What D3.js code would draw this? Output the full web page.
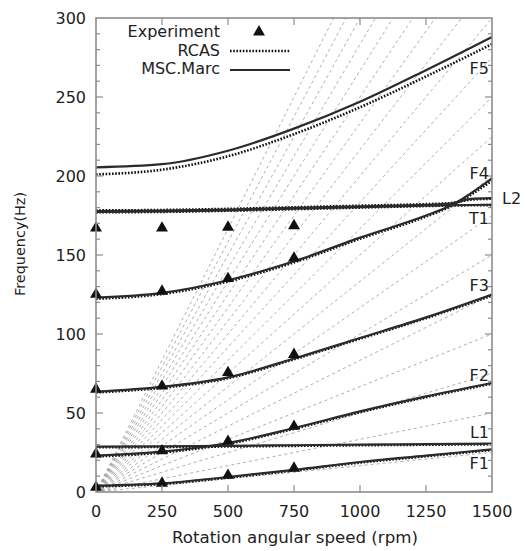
<!DOCTYPE html>
<html>
<head>
<meta charset="utf-8">
<script src="https://d3js.org/d3.v7.min.js"></script>
<style>
  body { margin: 0; background: #fff; }
  text { font-family: "DejaVu Sans", Verdana, sans-serif; fill: #222; }
</style>
</head>
<body>
<div id="chart"></div>
<script>
// rotation speed (rpm) sample points
var rpm = [0, 250, 500, 750, 1000, 1250, 1500];
var rpmFork = [0, 250, 500, 750, 1000, 1250, 1340, 1500];
var rpmL2 = [0, 250, 500, 750, 1000, 1250, 1340, 1420, 1500];

// MSC.Marc (solid)
var marcF1 = [4, 5.5, 9.5, 14, 19, 23, 27];
var marcL1 = [28.7, 28.9, 29.2, 29.6, 30, 30.3, 30.6];
var marcF2 = [23, 25.5, 31, 40.5, 51, 60.5, 69];
var marcF3 = [63.5, 66.5, 72.5, 84.5, 97.5, 110.5, 125];
var marcF4 = [123, 126, 134, 146, 161, 175, 181, 198.5];
var marcT1 = [177.3, 177.6, 178.3, 179.3, 180.3, 181.2, 181.5, 181.8];
var marcL2 = [177.8, 178.1, 178.8, 179.8, 180.8, 181.8, 182.5, 185.5, 186];
var marcF5 = [205.5, 207.5, 216, 230, 247, 267, 288];

// RCAS (dotted)
var rcasF1 = [3.6, 5.1, 9.1, 13.6, 18.6, 22.6, 26.6];
var rcasL1 = [28.3, 28.5, 28.8, 29.2, 29.6, 29.9, 30.2];
var rcasF2 = [22.5, 25, 30.5, 40, 50.5, 60, 68.5];
var rcasF3 = [63, 66, 72, 84, 97, 110, 124.3];
var rcasF4 = [122.3, 125.3, 133.3, 145.3, 160.3, 174.3, 180.5, 197];
var rcasT1 = [177, 177.3, 178, 179, 180, 181, 181.3, 181.6];
var rcasL2 = [178.2, 178.5, 179.2, 180.2, 181.2, 182.2, 182.8, 185, 185.6];
var rcasF5 = [201, 204, 212.5, 226.5, 243.5, 263, 283.5];

// Experiment (triangles)
var expRpm = [0, 250, 500, 750];
var expF1 = [4, 6.5, 11.5, 16];
var expF2 = [25, 27, 33, 42.5];
var expF3 = [66, 68, 76.5, 88];
var expF4 = [126, 128, 136, 149];
var expT1 = [168, 168, 168.5, 169.5];

// engine orders drawn as grey dashed rays
var orders = [1, 2, 3, 4, 5, 6, 7, 8, 9, 10, 11, 12, 13, 14, 15, 16, 17, 18, 19, 20];

var xTicks = [0, 250, 500, 750, 1000, 1250, 1500];
var yTicks = [0, 50, 100, 150, 200, 250, 300];

var modeLabels = [
  {name: "F5", f: 268}, {name: "F4", f: 202}, {name: "T1", f: 173},
  {name: "F3", f: 131}, {name: "F2", f: 74}, {name: "L1", f: 38}, {name: "F1", f: 18}
];

var W = 525, H = 551;
var L = 96, R = 492, T = 18, B = 492;

var svg = d3.select("#chart").append("svg")
    .attr("width", W)
    .attr("height", H);

var x = d3.scaleLinear().domain([0, 1500]).range([L, R]);
var y = d3.scaleLinear().domain([0, 300]).range([B, T]);

svg.append("clipPath").attr("id", "clip")
  .append("rect").attr("x", L).attr("y", T).attr("width", R - L).attr("height", B - T);

var plot = svg.append("g").attr("clip-path", "url(#clip)");

// engine order rays
plot.selectAll(".order")
    .data(orders)
    .enter().append("line")
    .attr("x1", x(0)).attr("y1", y(0))
    .attr("x2", x(1500)).attr("y2", function(n) { return y(n * 1500 / 60); })
    .attr("stroke", "#999")
    .attr("stroke-width", 0.8)
    .attr("stroke-dasharray", "3,3");

var line = d3.line()
    .x(function(d) { return x(d[0]); })
    .y(function(d) { return y(d[1]); })
    .curve(d3.curveMonotoneX);

function zip(xs, ys) { return xs.map(function(v, i) { return [v, ys[i]]; }); }

var rcas = [[rpm, rcasF1], [rpm, rcasL1], [rpm, rcasF2], [rpm, rcasF3],
            [rpmFork, rcasF4], [rpmFork, rcasT1], [rpmL2, rcasL2], [rpm, rcasF5]];
var marc = [[rpm, marcF1], [rpm, marcL1], [rpm, marcF2], [rpm, marcF3],
            [rpmFork, marcF4], [rpmFork, marcT1], [rpmL2, marcL2], [rpm, marcF5]];

rcas.forEach(function(s) {
  plot.append("path")
      .attr("d", line(zip(s[0], s[1])))
      .attr("fill", "none")
      .attr("stroke", "#111")
      .attr("stroke-width", 2.6)
      .attr("stroke-dasharray", "1.6,1.6");
});

marc.forEach(function(s) {
  plot.append("path")
      .attr("d", line(zip(s[0], s[1])))
      .attr("fill", "none")
      .attr("stroke", "#2a2a2a")
      .attr("stroke-width", 2.2);
});

// experiment points
var tri = d3.symbol().type(d3.symbolTriangle).size(62);
[expF1, expF2, expF3, expF4, expT1].forEach(function(vals) {
  svg.selectAll(null)
      .data(zip(expRpm, vals))
      .enter().append("path")
      .attr("d", tri)
      .attr("transform", function(d) { return "translate(" + x(d[0]) + "," + (y(d[1]) + 1.5) + ")"; })
      .attr("fill", "#111");
});

// frame and ticks
var frameCol = "#8c8c8c";
svg.append("rect")
    .attr("x", L).attr("y", T).attr("width", R - L).attr("height", B - T)
    .attr("fill", "none").attr("stroke", frameCol).attr("stroke-width", 1.6);

var yMinor = d3.range(0, 301, 10);
yMinor.forEach(function(v) {
  var len = (v % 50 === 0) ? 7 : 4;
  if (v === 0 || v === 300) return;
  svg.append("line").attr("x1", L).attr("x2", L + len).attr("y1", y(v)).attr("y2", y(v))
     .attr("stroke", frameCol).attr("stroke-width", 1.2);
  svg.append("line").attr("x1", R).attr("x2", R - len).attr("y1", y(v)).attr("y2", y(v))
     .attr("stroke", frameCol).attr("stroke-width", 1.2);
});
xTicks.forEach(function(v) {
  if (v === 0 || v === 1500) return;
  svg.append("line").attr("x1", x(v)).attr("x2", x(v)).attr("y1", B).attr("y2", B - 7)
     .attr("stroke", frameCol).attr("stroke-width", 1.2);
  svg.append("line").attr("x1", x(v)).attr("x2", x(v)).attr("y1", T).attr("y2", T + 7)
     .attr("stroke", frameCol).attr("stroke-width", 1.2);
});

// tick labels
svg.selectAll(".ylab")
    .data(yTicks)
    .enter().append("text")
    .attr("x", L - 10)
    .attr("y", function(d) { return y(d); })
    .attr("dy", "0.36em")
    .attr("text-anchor", "end")
    .style("font-size", "16px")
    .text(function(d) { return d; });

svg.selectAll(".xlab")
    .data(xTicks)
    .enter().append("text")
    .attr("x", function(d) { return x(d); })
    .attr("y", 517)
    .attr("text-anchor", "middle")
    .style("font-size", "16px")
    .text(function(d) { return d; });

// axis titles
svg.append("text")
    .attr("x", 295).attr("y", 543)
    .attr("text-anchor", "middle")
    .style("font-size", "15px")
    .attr("textLength", 246).attr("lengthAdjust", "spacingAndGlyphs")
    .text("Rotation angular speed (rpm)");

svg.append("text")
    .attr("transform", "translate(25,244) rotate(-90)")
    .attr("text-anchor", "middle")
    .style("font-size", "14px")
    .attr("textLength", 104).attr("lengthAdjust", "spacingAndGlyphs")
    .text("Frequency(Hz)");

// mode labels
svg.selectAll(".mode")
    .data(modeLabels)
    .enter().append("text")
    .attr("x", R - 3)
    .attr("y", function(d) { return y(d.f); })
    .attr("dy", "0.36em")
    .attr("text-anchor", "end")
    .style("font-size", "16px")
    .text(function(d) { return d.name; });

svg.append("text")
    .attr("x", R + 10).attr("y", y(186)).attr("dy", "0.36em")
    .style("font-size", "16px")
    .text("L2");

// legend
var lg = svg.append("g");
lg.append("text").attr("x", 220).attr("y", 31).attr("dy", "0.36em")
  .attr("text-anchor", "end").style("font-size", "16px").text("Experiment");
lg.append("path").attr("d", tri).attr("transform", "translate(259,32)").attr("fill", "#111");
lg.append("text").attr("x", 220).attr("y", 50).attr("dy", "0.36em")
  .attr("text-anchor", "end").style("font-size", "16px").text("RCAS");
lg.append("line").attr("x1", 230).attr("x2", 290).attr("y1", 51).attr("y2", 51)
  .attr("stroke", "#111").attr("stroke-width", 2.6).attr("stroke-dasharray", "1.6,1.6");
lg.append("text").attr("x", 220).attr("y", 68).attr("dy", "0.36em")
  .attr("text-anchor", "end").style("font-size", "16px").text("MSC.Marc");
lg.append("line").attr("x1", 230).attr("x2", 290).attr("y1", 70).attr("y2", 70)
  .attr("stroke", "#2a2a2a").attr("stroke-width", 2.2);
</script>
</body>
</html>
